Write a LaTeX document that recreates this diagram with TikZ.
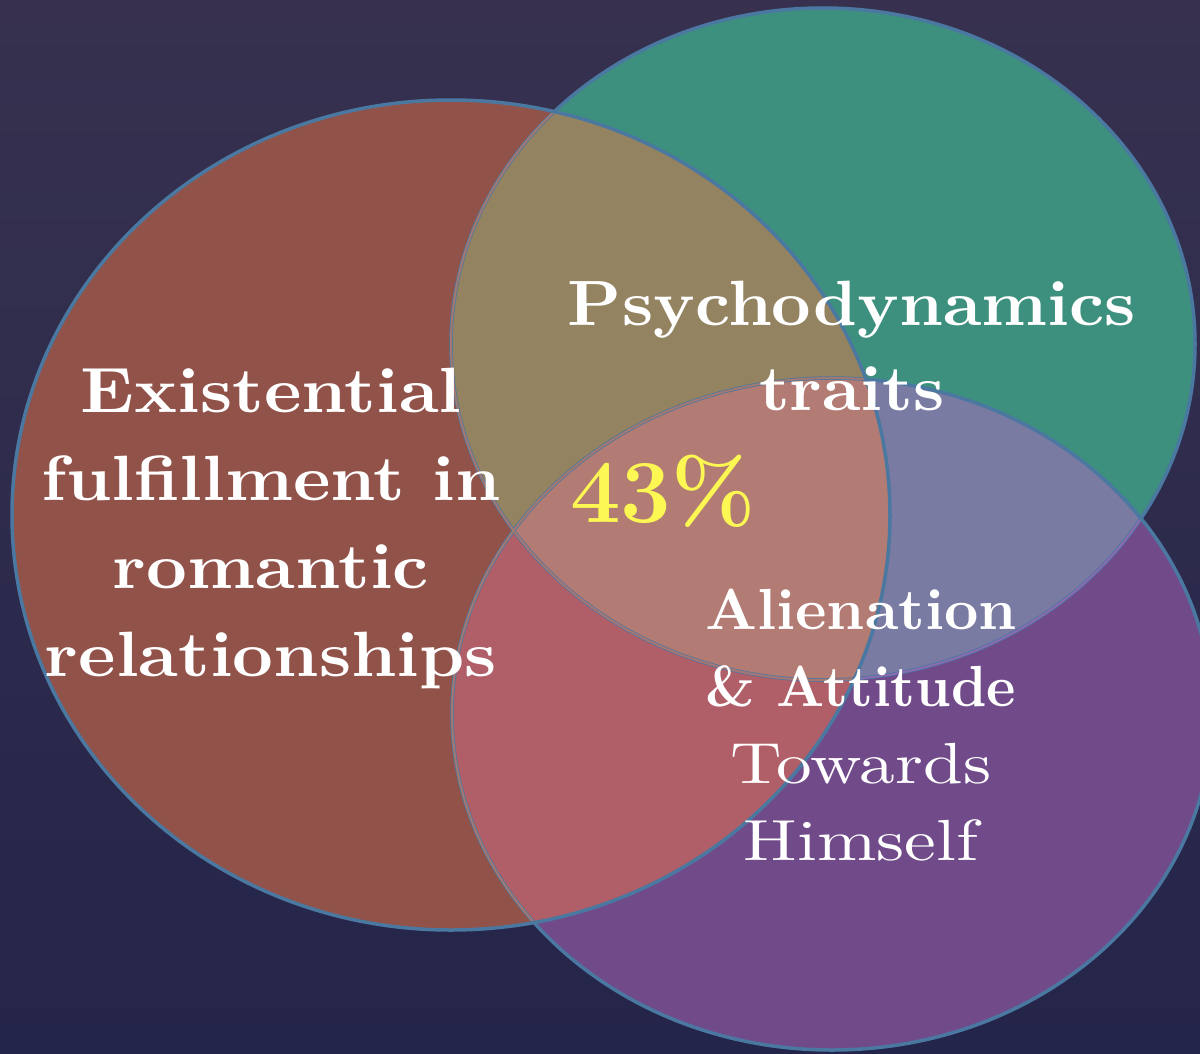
\documentclass[tikz,border=0pt]{standalone}
\usepackage{fontspec}
\newfontfamily\lblfont{lmroman10-bold.otf}[FakeStretch=1.11]
\newfontfamily\psfont{lmroman10-bold.otf}[FakeStretch=1.075]
\newfontfamily\alfont{lmroman10-bold.otf}[FakeStretch=1.03]
\newfontfamily\amfont{lmroman10-bold.otf}[FakeStretch=0.96]
\newfontfamily\regfont{lmroman10-regular.otf}[FakeStretch=1.23]
\definecolor{bgtop}{HTML}{37314F}
\definecolor{bgbot}{HTML}{24254A}
\definecolor{cred}{HTML}{91524A}
\definecolor{cgreen}{HTML}{3E907E}
\definecolor{cpurple}{HTML}{714A8A}
\definecolor{crg}{HTML}{948360}
\definecolor{crp}{HTML}{B05E68}
\definecolor{cgp}{HTML}{7A7BA3}
\definecolor{crgp}{HTML}{B27B74}
\definecolor{cline}{HTML}{4A78A0}
\definecolor{cfaintred}{HTML}{A27872}
\definecolor{cfaintpurple}{HTML}{8A6AB0}
\definecolor{cyel}{HTML}{FCF752}
\def\RedE{(451,515) ellipse [x radius=439pt, y radius=415pt]}
\def\GreenE{(823,344) ellipse [x radius=372pt, y radius=336pt]}
\def\PurpleE{(832,714) ellipse [x radius=380pt, y radius=336pt]}
\tikzset{
  outl/.style={draw=cline, line width=3.5pt},
  faintr/.style={draw=cfaintred, line width=2pt},
  faintp/.style={draw=cfaintpurple, line width=2pt},
  lbl/.style={text=white, align=center, inner sep=0pt, anchor=base}
}
\begin{document}
\begin{tikzpicture}[x=1pt,y=-1pt]
\useasboundingbox (0,0) rectangle (1200,1053);
\shade[top color=bgtop, bottom color=bgbot] (0,0) rectangle (1200,1053);
% base fills
\fill[cred] \RedE;
\fill[cgreen] \GreenE;
\fill[cpurple] \PurpleE;
% overlaps
\begin{scope}\clip \RedE; \fill[crg] \GreenE; \end{scope}
\begin{scope}\clip \RedE; \fill[crp] \PurpleE; \end{scope}
\begin{scope}\clip \GreenE; \fill[cgp] \PurpleE; \end{scope}
\begin{scope}\clip \RedE; \clip \GreenE; \fill[crgp] \PurpleE; \end{scope}
% outlines
\draw[outl] \GreenE;
\begin{scope}\clip \PurpleE; \draw[faintp] \GreenE; \end{scope}
\draw[outl] \PurpleE;
\begin{scope}\clip \RedE; \draw[faintr] \GreenE; \draw[faintr] \PurpleE; \end{scope}
\draw[outl] \RedE;
% labels (anchor base = baseline of the last line)
\node[lbl, font=\lblfont\fontsize{64}{88}\selectfont] (exist) at (271,676)
  {Existential\\fulfillment in\\romantic\\relationships};
\node[lbl, font=\psfont\fontsize{64}{85}\selectfont] (psych) at (852,410)
  {Psychodynamics\\traits};
\node[lbl, text=cyel, font=\bfseries\fontsize{90}{90}\selectfont] (pct) at (663,522) {43\%};
\node[lbl, font=\fontsize{58}{77}\selectfont] (alien) at (861,860)
  {\alfont Alienation\\\amfont\&~Attitude\\\regfont Towards\\\regfont Himself};
\end{tikzpicture}
\end{document}
